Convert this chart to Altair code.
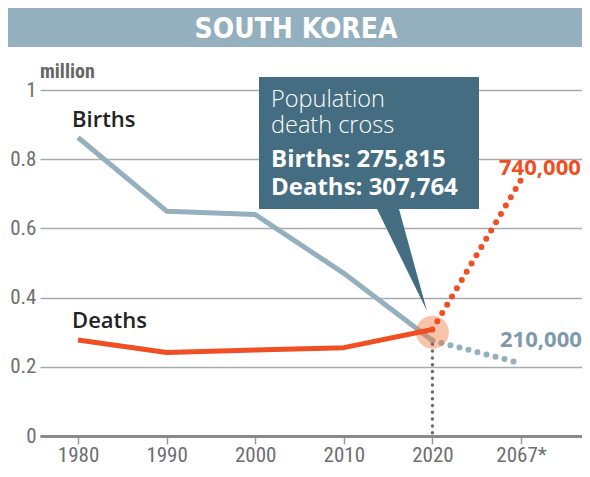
import altair as alt
import pandas as pd

# ---- data ----
years = ["1980", "1990", "2000", "2010", "2020", "2067*"]
births = [862835, 649738, 640089, 470171, 275815, 210000]
deaths = [277284, 241616, 248740, 255405, 307764, 740000]
y_ticks = [0, 0.2, 0.4, 0.6, 0.8, 1]
cross_value = 0.30          # centre of the highlighted crossing (million)
title_text = "SOUTH KOREA"
unit_text = "million"
callout_lines = ["Population", "death cross", "Births: 275,815", "Deaths: 307,764"]
end_labels = {"Births": "210,000", "Deaths": "740,000"}

AX_FONT = "Roboto Condensed, DejaVu Sans Condensed"
COND_BOLD = "DejaVu Sans Condensed"
SANS = "Open Sans"

BIRTH_C = "#94afbd"
DEATH_C = "#f04e23"
BOX_C = "#456d81"

n = len(years)
idx = list(range(n))
df_b = pd.DataFrame({"idx": idx, "v": [b / 1e6 for b in births], "lab": years})
df_d = pd.DataFrame({"idx": idx, "v": [d / 1e6 for d in deaths], "lab": years})
last = n - 2  # 2020, last observed point

label_expr = "[" + ",".join("'%s'" % y for y in years) + "][datum.value]"

x_enc = alt.X(
    "idx:Q",
    scale=alt.Scale(domain=[-0.429, 5.688], nice=False, zero=False),
    axis=alt.Axis(
        values=idx, labelExpr=label_expr, title=None, grid=False,
        domainColor="#8a8a8a", domainWidth=3,
        tickColor="#9a9a9a", tickWidth=1.5, tickSize=8,
        labelFont=AX_FONT, labelFontSize=21, labelColor="#6d6e71", labelPadding=0,
    ),
)
y_enc = alt.Y(
    "v:Q",
    scale=alt.Scale(domain=[0, 1], nice=False),
    axis=alt.Axis(
        values=y_ticks, format=".1~f", title=None, domain=False, ticks=False,
        gridColor="#a9abae", gridWidth=1.5,
        labelFont=AX_FONT, labelFontSize=21, labelColor="#6d6e71", labelPadding=4,
    ),
)

one = pd.DataFrame({"k": [0]})

births_solid = alt.Chart(df_b[df_b.idx <= last]).mark_line(
    color=BIRTH_C, strokeWidth=5, strokeJoin="round"
).encode(x=x_enc, y=y_enc)
births_proj = alt.Chart(df_b[df_b.idx >= last]).mark_line(
    color=BIRTH_C, strokeWidth=6, strokeDash=[0, 9.3], strokeCap="round"
).encode(x="idx:Q", y="v:Q")

cross = alt.Chart(pd.DataFrame({"idx": [last], "v": [cross_value]})).mark_circle(
    size=1089, color="#f0793f", opacity=0.45
).encode(x="idx:Q", y="v:Q")

deaths_solid = alt.Chart(df_d[df_d.idx <= last]).mark_line(
    color=DEATH_C, strokeWidth=5, strokeJoin="round"
).encode(x="idx:Q", y="v:Q")
deaths_proj = alt.Chart(df_d[df_d.idx >= last]).mark_line(
    color=DEATH_C, strokeWidth=6, strokeDash=[0, 9.6], strokeCap="round"
).encode(x="idx:Q", y="v:Q")

vline = alt.Chart(pd.DataFrame({"idx": [last], "v": [0.265], "v0": [0.0]})).mark_rule(
    color="#6b6b6b", strokeWidth=3.5, strokeDash=[0, 6.8], strokeCap="round"
).encode(x="idx:Q", y="v:Q", y2="v0:Q")

# callout
pointer = alt.Chart(one).mark_point(
    shape="M337,119 L359,119 L387,221 Z", size=4, filled=True,
    color=BOX_C, opacity=1, strokeWidth=0
).encode(x=alt.value(0), y=alt.value(0))
box = alt.Chart(one).mark_rect(color=BOX_C).encode(
    x=alt.value(219), x2=alt.value(439), y=alt.value(-13), y2=alt.value(119)
)
box_y = [17, 43, 77, 105]
box_w = [300, 300, "bold", "bold"]
box_s = [23.5, 23.5, 24, 24]
box_texts = [
    alt.Chart(one).mark_text(
        align="left", baseline="alphabetic", font=SANS, fontSize=s,
        fontWeight=w, color="white"
    ).encode(x=alt.value(231), y=alt.value(yy), text=alt.value(t))
    for t, yy, w, s in zip(callout_lines, box_y, box_w, box_s)
]

# title band
band = alt.Chart(one).mark_rect(color="#94afbd").encode(
    x=alt.value(-32), x2=alt.value(542), y=alt.value(-82), y2=alt.value(-43)
)
title = alt.Chart(one).mark_text(
    align="center", baseline="alphabetic", font=COND_BOLD, fontSize=28,
    fontWeight="bold", color="white"
).encode(x=alt.value(256), y=alt.value(-52), text=alt.value(title_text))

unit = alt.Chart(one).mark_text(
    align="left", baseline="alphabetic", font=AX_FONT, fontSize=20,
    fontWeight="bold", color="#666666"
).encode(x=alt.value(0), y=alt.value(-12), text=alt.value(unit_text))

# series labels
births_lab = alt.Chart(df_b[df_b.idx == 0]).mark_text(
    align="left", baseline="alphabetic", font=SANS, fontSize=22, fontWeight=600,
    color="#222222", dx=-6, dy=-10
).encode(x="idx:Q", y="v:Q", text=alt.value("Births"))
deaths_lab = alt.Chart(df_d[df_d.idx == 0]).mark_text(
    align="left", baseline="alphabetic", font=SANS, fontSize=22, fontWeight=600,
    color="#222222", dx=-6, dy=-12
).encode(x="idx:Q", y="v:Q", text=alt.value("Deaths"))
births_end = alt.Chart(df_b[df_b.idx == n - 1]).mark_text(
    align="left", baseline="alphabetic", font=SANS, fontSize=22, fontWeight="bold",
    color="#7f9aab", dx=-21, dy=-16
).encode(x="idx:Q", y="v:Q", text=alt.value(end_labels["Births"]))
deaths_end = alt.Chart(df_d[df_d.idx == n - 1]).mark_text(
    align="left", baseline="alphabetic", font=SANS, fontSize=22, fontWeight="bold",
    color=DEATH_C, dx=-22, dy=-5
).encode(x="idx:Q", y="v:Q", text=alt.value(end_labels["Deaths"]))

chart = alt.layer(
    births_solid, births_proj, cross, deaths_solid, deaths_proj, vline,
    pointer, box, *box_texts, band, title, unit,
    births_lab, deaths_lab, births_end, deaths_end,
).properties(
    width=542, height=346,
    autosize=alt.AutoSizeParams(type="none"),
    padding={"left": 32, "top": 82, "right": 0, "bottom": 29},
).configure_view(stroke=None)

chart.save("out.html", embed_options={"renderer": "svg", "actions": False})
